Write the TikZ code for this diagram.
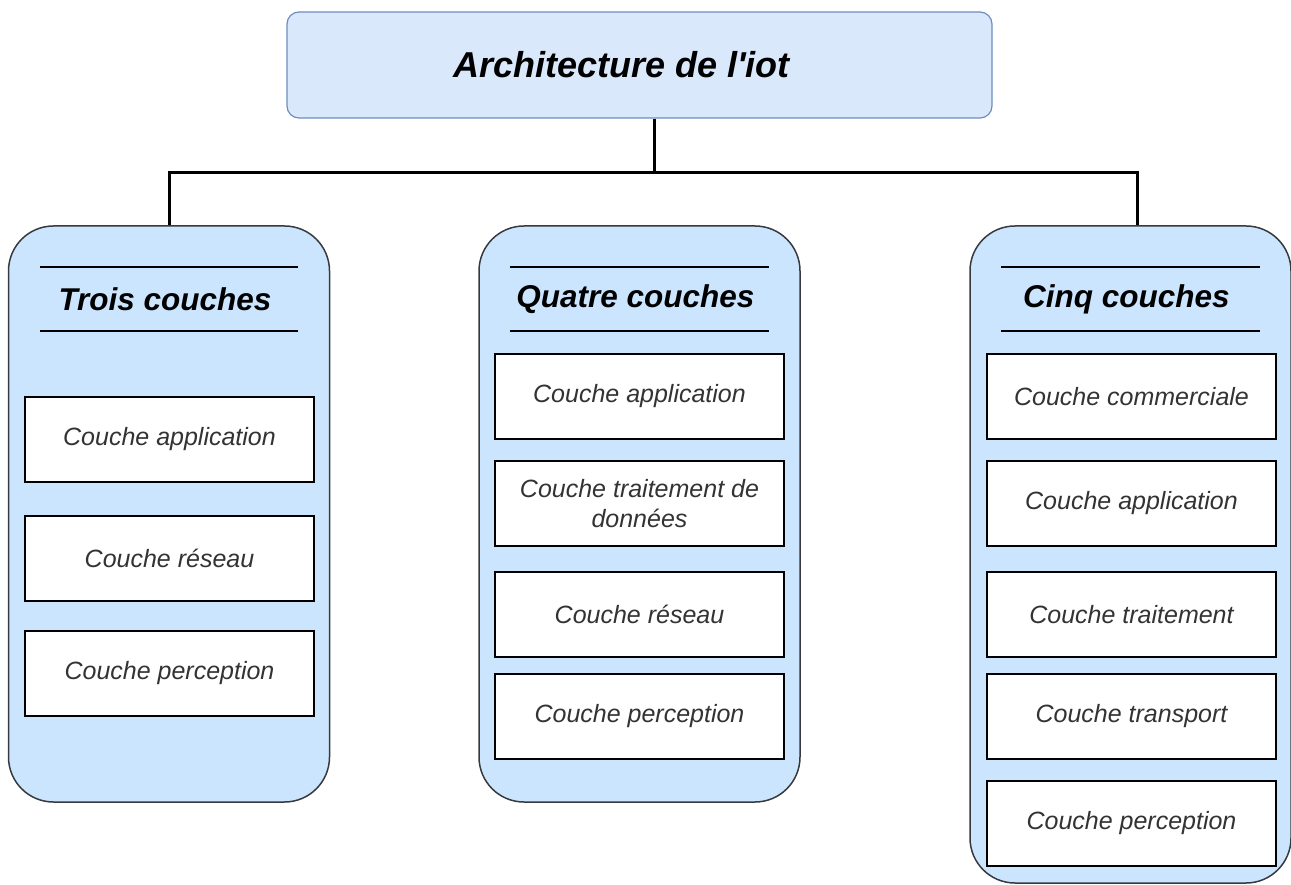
\documentclass[tikz,border=0pt]{standalone}
\usepackage{fontspec}
\setmainfont{Liberation Sans}
\usepackage{xcolor}
\usepackage{tikz}
\usetikzlibrary{calc}
\definecolor{topfill}{HTML}{DAE8FC}
\definecolor{topdraw}{HTML}{6C8EBF}
\definecolor{colfill}{HTML}{CCE5FF}
\definecolor{coldraw}{HTML}{36393D}
\definecolor{layertext}{HTML}{333333}

\begin{document}
\begin{tikzpicture}[
    x=1pt, y=-1pt,
    header/.style={draw=topdraw, fill=topfill, rounded corners=12pt, line width=1.2pt, minimum width=705pt, minimum height=106pt, font=\fontsize{36}{40}\selectfont\bfseries\itshape},
    column/.style={draw=coldraw, fill=colfill, rounded corners=45pt, line width=1.5pt, minimum width=321pt},
    coltitle/.style={font=\fontsize{31.5}{36}\selectfont\bfseries\itshape},
    layer/.style={draw=black, fill=white, line width=1.8pt, minimum width=289pt, minimum height=85pt, align=center, text=layertext, font=\fontsize{25}{30}\selectfont\itshape},
    rule/.style={line width=2pt},
    link/.style={line width=3pt},
]
    \useasboundingbox (0,0) rectangle (1291,885);

    \node[header] (archi) at (639.5,65) {Architecture de l\textquotesingle iot\kern36pt};

    \node[column, minimum height=576pt] (trois) at (169,514) {};
    \node[column, minimum height=576pt] (quatre) at (639.5,514) {};
    \node[column, minimum height=657pt] (cinq) at (1130.5,554.5) {};

    \node[coltitle] (troisT) at ($(trois.north)+(-4,74)$) {Trois couches};
    \node[coltitle] (quatreT) at ($(quatre.north)+(-4,74)$) {Quatre couches};
    \node[coltitle] (cinqT) at ($(cinq.north)+(-4,74)$) {Cinq couches};

    \foreach \c in {trois,quatre,cinq}
        \foreach \dy in {42,106}
            \draw[rule] ($(\c.north west)+(32,\dy)$) -- ($(\c.north east)+(-32,\dy)$);

    % trois couches
    \node[layer] (t1) at (169.5,439.5) {Couche application};
    \node[layer] (t2) at (169.5,558.5) {Couche réseau};
    \node[layer] (t3) at (169.5,673.5) {Couche perception};

    % quatre couches
    \node[layer] (q1) at (639.5,396.5) {Couche application};
    \node[layer] (q2) at (639.5,503.5) {Couche traitement de\\données};
    \node[layer] (q3) at (639.5,614.5) {Couche réseau};
    \node[layer] (q4) at (639.5,716.5) {Couche perception};

    % cinq couches
    \node[layer] (c1) at (1131.5,396.5) {Couche commerciale};
    \node[layer] (c2) at (1131.5,503.5) {Couche application};
    \node[layer] (c3) at (1131.5,614.5) {Couche traitement};
    \node[layer] (c4) at (1131.5,716.5) {Couche transport};
    \node[layer] (c5) at (1131.5,823.5) {Couche perception};

    \coordinate (hub) at (654,173);
    \draw[link] (archi.south -| hub) -- (hub);
    \draw[link] (trois.north) |- (hub) -| ([xshift=7pt]cinq.north);
\end{tikzpicture}
\end{document}
